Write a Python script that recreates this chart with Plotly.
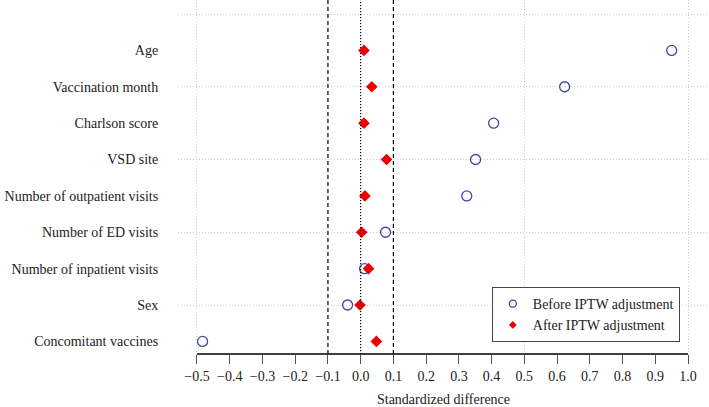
import plotly.graph_objects as go

categories = ["Concomitant vaccines", "Sex", "Number of inpatient visits", "Number of ED visits",
              "Number of outpatient visits", "VSD site", "Charlson score", "Vaccination month", "Age"]
before_vals = [-0.483, -0.040, 0.012, 0.076, 0.324, 0.351, 0.406, 0.623, 0.950]
after_vals = [0.048, -0.002, 0.024, 0.003, 0.013, 0.079, 0.010, 0.034, 0.010]
x_ticks = [round(-0.5 + 0.1 * i, 1) for i in range(16)]
x_grid = [-0.5, 0.0, 0.5, 1.0]
y_pos = list(range(1, len(categories) + 1))
y_grid = [2, 4, 6, 8, 10]

BLUE = "#4444a8"
RED = "#ee0000"
FONT = "Liberation Serif"

fig = go.Figure()
fig.add_trace(go.Scatter(x=before_vals, y=y_pos, mode="markers", showlegend=False,
                         marker=dict(symbol="circle-open", size=10, color=BLUE, line=dict(width=1.3, color=BLUE))))
fig.add_trace(go.Scatter(x=after_vals, y=y_pos, mode="markers", showlegend=False,
                         marker=dict(symbol="diamond", size=9, color=RED)))
# legend entries
fig.add_trace(go.Scatter(x=[None], y=[None], mode="markers", name="Before IPTW adjustment",
                         marker=dict(symbol="circle-open", size=7, color=BLUE, line=dict(width=1.3, color=BLUE))))
fig.add_trace(go.Scatter(x=[None], y=[None], mode="markers", name="After IPTW adjustment",
                         marker=dict(symbol="diamond", size=6, color=RED)))

for v in [-0.1, 0.1]:
    fig.add_vline(x=v, line=dict(color="black", width=1.2, dash="4px,3px"))
fig.add_vline(x=0, line=dict(color="black", width=1.2, dash="1px,2px"))
# R-style axis line spanning only the tick range
fig.add_shape(type="line", xref="x", yref="paper", x0=x_ticks[0], x1=x_ticks[-1], y0=0, y1=0,
              line=dict(color="black", width=1.3))

fig.update_layout(
    width=709, height=407,
    margin=dict(l=178, r=0, t=0, b=53),
    plot_bgcolor="white", paper_bgcolor="white",
    font=dict(family=FONT, size=14, color="#222222"),
    xaxis=dict(range=[-0.558, 1.064], tickvals=x_ticks, tickformat=".1f", automargin=False,
               showgrid=False, zeroline=False, showline=False,
               ticks="outside", ticklen=9, tickcolor="#555555", tickwidth=1.3,
               tickfont=dict(size=14),
               minor=dict(tickvals=x_grid, showgrid=True, gridcolor="#cccccc", griddash="1px,2px",
                          gridwidth=1, ticks=""),
               title=dict(text="Standardized difference", font=dict(size=14), standoff=11)),
    yaxis=dict(range=[0.653, 10.385], tickvals=y_pos, ticktext=categories, automargin=False,
               showgrid=False, zeroline=False, showline=False,
               ticks="outside", ticklen=16, tickcolor="rgba(0,0,0,0)",
               tickfont=dict(size=14),
               minor=dict(tickvals=y_grid, showgrid=True, gridcolor="#cccccc", griddash="1px,2px",
                          gridwidth=1, ticks="")),
    legend=dict(x=0.591, y=0.189, xanchor="left", yanchor="top",
                bordercolor="#444444", borderwidth=1, bgcolor="white",
                font=dict(size=14), itemwidth=30, tracegroupgap=0),
)

fig.write_html("out.html", config={"displayModeBar": False},
               post_script="document.body.style.margin='0';document.body.style.padding='0';")
